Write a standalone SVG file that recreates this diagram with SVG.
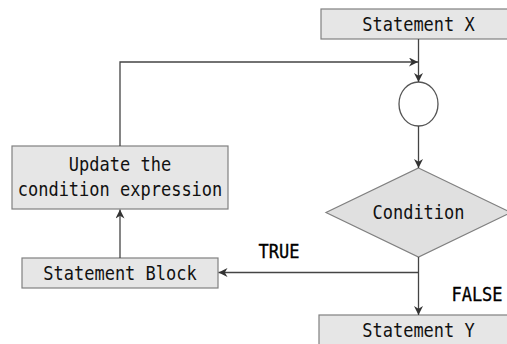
<svg xmlns="http://www.w3.org/2000/svg" width="507" height="344" viewBox="0 0 507 344">
<style>
.box{fill:#e6e6e6;stroke:#808080;stroke-width:1.2}
.t{font-family:"DejaVu Sans Mono",monospace;font-size:17px;fill:#111;text-anchor:middle;dominant-baseline:central}
.lbl{font-family:"DejaVu Sans Mono",monospace;font-size:17px;fill:#000;stroke:#000;stroke-width:0.3;text-anchor:middle;dominant-baseline:central}
.c{fill:none;stroke:#444;stroke-width:1.3}
</style>
<defs>
<marker id="ah" viewBox="0 0 10 10" refX="10" refY="5" markerWidth="9" markerHeight="9" markerUnits="userSpaceOnUse" orient="auto">
<path d="M0,0 L10,5 L0,10 L3,5 z" fill="#333"/>
</marker>
</defs>
<rect width="507" height="344" fill="#fff"/>
<g id="statement-x"><rect class="box" x="321" y="9" width="190" height="30"/><text class="t" transform="translate(418.5,24.5) scale(1,1.1)">Statement X</text></g>
<g id="junction"><ellipse cx="418.5" cy="104" rx="19.5" ry="22" fill="#fff" stroke="#555" stroke-width="1.3"/></g>
<g id="condition"><polygon points="418.5,168 511,212.5 418.5,257 326,212.5" fill="#e0e0e0" stroke="#808080" stroke-width="1.2"/><text class="t" transform="translate(418.5,212) scale(1,1.1)">Condition</text></g>
<g id="update"><rect class="box" x="12" y="146" width="216" height="63"/><text class="t" transform="translate(120,164.5) scale(1,1.1)">Update the</text><text class="t" transform="translate(120,189.5) scale(1,1.1)">condition expression</text></g>
<g id="statement-block"><rect class="box" x="22" y="258" width="196" height="30"/><text class="t" transform="translate(120,273) scale(1,1.1)">Statement Block</text></g>
<g id="statement-y"><rect class="box" x="319" y="315" width="192" height="32"/><text class="t" transform="translate(418.5,330) scale(1,1.1)">Statement Y</text></g>
<g id="connectors">
<path class="c" d="M418.5,39 V82" marker-end="url(#ah)"/>
<path class="c" d="M120,146 V62 H418" marker-end="url(#ah)"/>
<path class="c" d="M418.5,126 V168" marker-end="url(#ah)"/>
<path class="c" d="M418.5,257 V315" marker-end="url(#ah)"/>
<path class="c" d="M418.5,272.5 H218.5" marker-end="url(#ah)"/>
<path class="c" d="M120,258 V209.5" marker-end="url(#ah)"/>
<text class="lbl" transform="translate(279,251) scale(1,1.1)">TRUE</text>
<text class="lbl" transform="translate(477,294) scale(1,1.1)">FALSE</text>
</g>
</svg>
